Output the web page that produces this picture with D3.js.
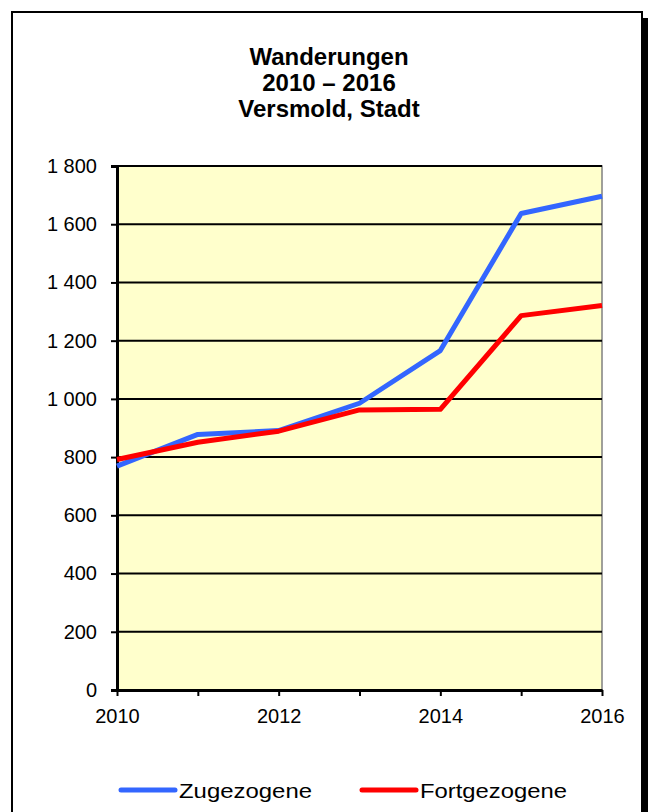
<!DOCTYPE html>
<html>
<head>
<meta charset="utf-8">
<script src="https://cdn.jsdelivr.net/npm/d3@7"></script>
<style>
  html, body { margin: 0; padding: 0; background: #ffffff; }
  svg { display: block; }
  text { font-family: "Liberation Sans", Arial, sans-serif; fill: #000; }
</style>
</head>
<body>
<svg id="chart" width="648" height="812"></svg>
<script>
// Chart data
const years = [2010, 2011, 2012, 2013, 2014, 2015, 2016];
const zugezogene = [769, 878, 891, 985, 1166, 1637, 1696];
const fortgezogene = [792, 851, 889, 962, 964, 1286, 1321];
const yTicks = [0, 200, 400, 600, 800, 1000, 1200, 1400, 1600, 1800];
const xTickLabels = [2010, 2012, 2014, 2016];
const titleLines = ["Wanderungen", "2010 \u2013 2016", "Versmold, Stadt"];
const seriesNames = ["Zugezogene", "Fortgezogene"];
const seriesColors = ["#3366ff", "#ff0000"];

const svg = d3.select("#chart");

// Outer frame with drop shadow
svg.append("rect").attr("x", 18).attr("y", 18).attr("width", 630).attr("height", 820).attr("fill", "#000");
svg.append("rect").attr("x", 12).attr("y", 12).attr("width", 630).attr("height", 820)
  .attr("fill", "#fff").attr("stroke", "#000").attr("stroke-width", 2);

// Title
const title = svg.append("text").attr("text-anchor", "middle")
  .style("font-weight", "bold").style("font-size", "24px");
titleLines.forEach((t, i) => {
  title.append("tspan").attr("x", 329).attr("y", 65 + i * 26).text(t);
});

// Plot area
const plot = { left: 117, right: 602, top: 166, bottom: 690 };
const x = d3.scaleLinear().domain([2010, 2016]).range([plot.left, plot.right]);
const y = d3.scaleLinear().domain([0, 1800]).range([plot.bottom, plot.top]);

svg.append("rect")
  .attr("x", plot.left).attr("y", plot.top)
  .attr("width", plot.right - plot.left).attr("height", plot.bottom - plot.top)
  .attr("fill", "#ffffcc").attr("stroke", "#808080").attr("stroke-width", 1.5);

// Horizontal gridlines
svg.append("g").selectAll("line")
  .data(yTicks.filter(d => d > 0))
  .join("line")
  .attr("x1", plot.left).attr("x2", plot.right)
  .attr("y1", d => y(d)).attr("y2", d => y(d))
  .attr("stroke", "#000").attr("stroke-width", 2);

// Axes
const de = d3.formatLocale({ decimal: ",", thousands: " ", grouping: [3], currency: ["", " €"] });
const fmt = de.format(",d");

const yAxis = svg.append("g").attr("transform", `translate(${plot.left},0)`)
  .call(d3.axisLeft(y).tickValues(yTicks).tickFormat(fmt).tickSize(6).tickPadding(14));
yAxis.select(".domain").attr("stroke-width", 3);
yAxis.selectAll(".tick line").attr("stroke-width", 2);
yAxis.selectAll(".tick text").style("font-size", "20px").attr("font-family", null);

const xAxis = svg.append("g").attr("transform", `translate(0,${plot.bottom})`)
  .call(d3.axisBottom(x).tickValues(years).tickFormat(d => xTickLabels.includes(d) ? d : "")
    .tickSize(6).tickSizeOuter(0).tickPadding(13));
xAxis.select(".domain").attr("stroke-width", 3);
xAxis.selectAll(".tick line").attr("stroke-width", 2);
xAxis.selectAll(".tick text").style("font-size", "20px").attr("font-family", null);

// Series lines
const line = d3.line().x((d, i) => x(years[i])).y(d => y(d));
[zugezogene, fortgezogene].forEach((vals, k) => {
  svg.append("path").datum(vals)
    .attr("d", line)
    .attr("fill", "none")
    .attr("stroke", seriesColors[k])
    .attr("stroke-width", 5)
    .attr("stroke-linejoin", "round");
});

// Legend (labels slightly widened)
const legendX = [121, 362];
const legendTextWidth = [133, 147];
seriesNames.forEach((name, k) => {
  const g = svg.append("g").attr("transform", `translate(${legendX[k]},790)`);
  g.append("line").attr("x1", 0).attr("x2", 54).attr("y1", 0).attr("y2", 0)
    .attr("stroke", seriesColors[k]).attr("stroke-width", 5).attr("stroke-linecap", "round");
  g.append("text").attr("x", 58).attr("y", 8).style("font-size", "21px")
    .attr("textLength", legendTextWidth[k]).attr("lengthAdjust", "spacingAndGlyphs")
    .text(name);
});
</script>
</body>
</html>
